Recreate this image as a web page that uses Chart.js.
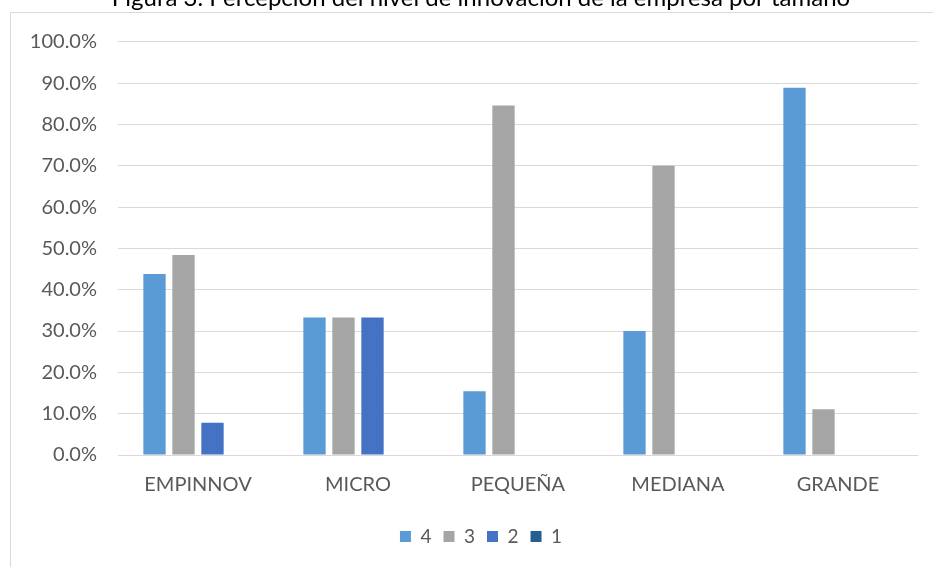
<!DOCTYPE html>
<html>
<head>
<meta charset="utf-8">
<script src="https://cdn.jsdelivr.net/npm/chart.js@4"></script>
<style>
  html, body { margin: 0; padding: 0; background: #fff; overflow: hidden; }
  #wrap { position: relative; width: 933px; height: 567px; overflow: hidden; }
  #box { position: absolute; left: 0; top: -19px; width: 957px; height: 586px; }
</style>
</head>
<body>
<div id="wrap"><div id="box"><canvas id="c"></canvas></div></div>
<script>
const categories = ['EMPINNOV', 'MICRO', 'PEQUEÑA', 'MEDIANA', 'GRANDE'];
const seriesNames = ['4', '3', '2', '1'];
const values4 = [43.8, 33.3, 15.4, 30.0, 88.9];
const values3 = [48.4, 33.3, 84.6, 70.0, 11.1];
const values2 = [7.8, 33.3, 0, 0, 0];
const values1 = [0, 0, 0, 0, 0];
const yTicks = [0, 10, 20, 30, 40, 50, 60, 70, 80, 90, 100];
const colors = ['#5B9BD5', '#A5A5A5', '#4472C4', '#255E91'];
const titleText = 'Figura 3. Percepción del nivel de innovación de la empresa por tamaño';

const FONT = 'Lato, "Open Sans", sans-serif';

// Thin frame around the chart body, as in the office-style chart box
const framePlugin = {
  id: 'frame',
  beforeDraw(chart) {
    const ctx = chart.ctx;
    ctx.save();
    ctx.strokeStyle = '#d9d9d9';
    ctx.lineWidth = 1;
    ctx.beginPath();
    ctx.moveTo(10.5, chart.height + 5);
    ctx.lineTo(10.5, 31.5);
    ctx.lineTo(chart.width + 5, 31.5);
    ctx.stroke();
    ctx.restore();
  }
};

const seriesValues = [values4, values3, values2, values1];

new Chart(document.getElementById('c'), {
  type: 'bar',
  data: {
    labels: categories,
    datasets: seriesNames.map((name, i) => ({
      label: name,
      data: seriesValues[i],
      backgroundColor: colors[i],
      borderWidth: 0,
      barPercentage: 0.77,
      categoryPercentage: 0.725
    }))
  },
  options: {
    responsive: true,
    maintainAspectRatio: false,
    animation: false,
    layout: { padding: { left: 20, right: 15, top: 0, bottom: 11 } },
    plugins: {
      title: {
        display: true,
        text: titleText,
        color: '#000',
        font: { family: FONT, size: 24, weight: 'normal' },
        padding: { top: 3, bottom: 29 }
      },
      legend: {
        position: 'bottom',
        labels: {
          color: '#595959',
          font: { family: FONT, size: 19 },
          boxWidth: 11,
          boxHeight: 11,
          padding: 12
        }
      },
      tooltip: { enabled: false }
    },
    scales: {
      x: {
        grid: { display: false, drawTicks: false },
        border: { display: false },
        ticks: {
          color: '#595959',
          font: { family: FONT, size: 20 },
          padding: 18
        }
      },
      y: {
        min: 0,
        max: 100,
        afterBuildTicks(scale) {
          scale.ticks = yTicks.map(v => ({ value: v }));
        },
        afterFit(scale) { scale.width = 98; },
        grid: { color: '#d9d9d9', lineWidth: 1, drawTicks: false },
        border: { display: false },
        ticks: {
          color: '#595959',
          font: { family: FONT, size: 20 },
          padding: 21,
          callback: v => v.toFixed(1) + '%'
        }
      },
      // empty right-hand margin of the plot box
      yRight: {
        position: 'right',
        min: 0,
        max: 100,
        afterFit(scale) { scale.width = 24; },
        grid: { display: false, drawTicks: false },
        border: { display: false },
        ticks: { display: false }
      }
    }
  },
  plugins: [framePlugin]
});
</script>
</body>
</html>
